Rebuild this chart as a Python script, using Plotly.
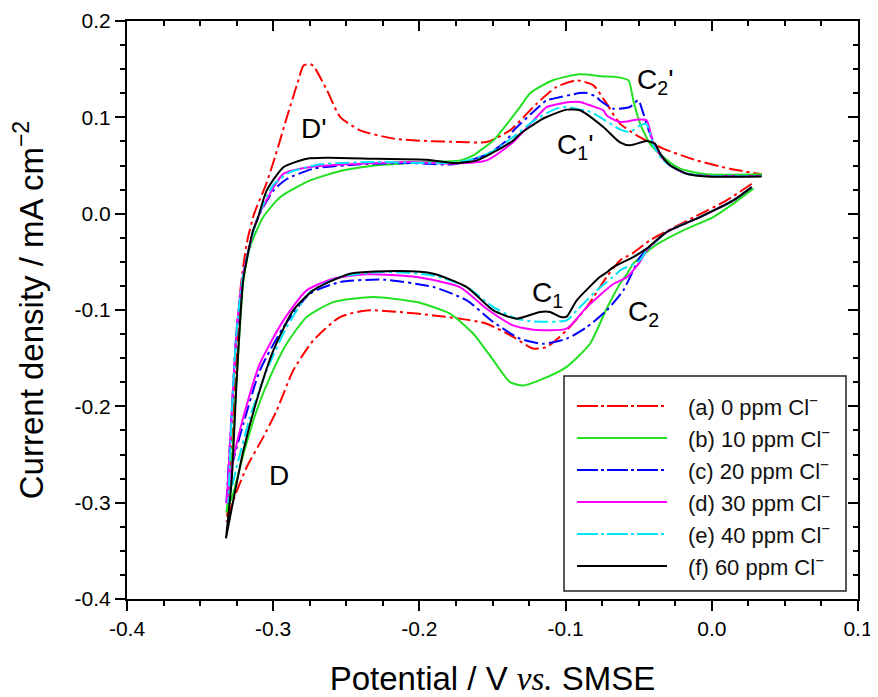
import plotly.graph_objects as go

# ---------------- data ----------------
labels = ["(a) 0 ppm Cl<sup>−</sup>", "(b) 10 ppm Cl<sup>−</sup>", "(c) 20 ppm Cl<sup>−</sup>",
          "(d) 30 ppm Cl<sup>−</sup>", "(e) 40 ppm Cl<sup>−</sup>", "(f) 60 ppm Cl<sup>−</sup>"]
colors = ["#ff0000", "#22e022", "#0000ff", "#ff00ff", "#00e5f5", "#000000"]
dashes = ["dashdot", "solid", "dashdot", "solid", "dashdot", "solid"]

# (a) 0 ppm
a_dn_x = [0.0273, 0.0101, -0.0127, -0.0423, -0.054, -0.0628, -0.0719, -0.0855, -0.0993, -0.113, -0.1222,
          -0.1358, -0.154, -0.1723, -0.1904, -0.2133, -0.236, -0.2543, -0.2726, -0.2863, -0.2976, -0.3068,
          -0.3181, -0.3273, -0.3318]
a_dn_y = [0.0311, 0.0138, -0.004, -0.0277, -0.041, -0.0485, -0.0658, -0.097, -0.121, -0.1385, -0.140,
          -0.128, -0.1142, -0.109, -0.1056, -0.1021, -0.1004, -0.1073, -0.1316, -0.1627, -0.2043, -0.232,
          -0.263, -0.2977, -0.32]
a_up_x = [-0.3318, -0.329, -0.326, -0.3225, -0.318, -0.313, -0.305, -0.2985, -0.2906, -0.2835, -0.2791,
          -0.2745, -0.2723, -0.2632, -0.2541, -0.2404, -0.2176, -0.1948, -0.172, -0.154, -0.138, -0.1198,
          -0.1062, -0.0924, -0.081, -0.0719, -0.0628, -0.0514, -0.0332, -0.0104, 0.0124, 0.0341]
a_up_y = [-0.32, -0.26, -0.17, -0.08, -0.03, 0.0, 0.03, 0.06, 0.1003, 0.135, 0.154,
          0.155, 0.153, 0.128, 0.1003, 0.0865, 0.0779, 0.0754, 0.0744, 0.0744, 0.0865, 0.1142,
          0.1315, 0.1384, 0.1332, 0.1142, 0.0935, 0.0813, 0.0675, 0.0553, 0.0467, 0.0408]

# (b) 10 ppm
b_dn_x = [0.0284, 0.0147, 0.001, -0.0195, -0.0377, -0.0446, -0.0537, -0.0582, -0.0628, -0.0719, -0.0833,
          -0.0993, -0.1152, -0.1289, -0.138, -0.1494, -0.1631, -0.1791, -0.2019, -0.2315, -0.2589, -0.2771,
          -0.2908, -0.3022, -0.3113, -0.3204, -0.3273, -0.332]
b_dn_y = [0.026, 0.0104, -0.0035, -0.0173, -0.032, -0.040, -0.0519, -0.063, -0.0727, -0.0985, -0.135,
          -0.159, -0.1713, -0.1783, -0.1749, -0.1523, -0.1246, -0.1038, -0.0918, -0.0866, -0.0918, -0.1073,
          -0.135, -0.1697, -0.2043, -0.25, -0.29, -0.31]
b_up_x = [-0.332, -0.3284, -0.325, -0.3215, -0.3204, -0.3159, -0.3068, -0.2951, -0.2746, -0.2518, -0.229,
          -0.1948, -0.172, -0.1631, -0.1583, -0.1494, -0.1312, -0.1243, -0.1084, -0.0902, -0.0742, -0.065,
          -0.057, -0.0537, -0.0491, -0.0423, -0.0332, -0.0216, -0.0035, 0.0341]
b_up_y = [-0.31, -0.26, -0.17, -0.09, -0.069, -0.0347, -0.0035, 0.0173, 0.0346, 0.045, 0.0502,
          0.0536, 0.0553, 0.0605, 0.0657, 0.0761, 0.1107, 0.125, 0.1387, 0.1446, 0.1425, 0.1418,
          0.1384, 0.1177, 0.0935, 0.0727, 0.0588, 0.0467, 0.0408, 0.0408]

# (c) 20 ppm
c_dn_x = [0.0273, 0.0147, -0.0081, -0.0309, -0.0446, -0.0491, -0.0605, -0.0719, -0.0855, -0.0993, -0.1152,
          -0.1312, -0.1494, -0.1676, -0.1904, -0.2248, -0.2543, -0.2748, -0.293, -0.3091, -0.3204, -0.3284,
          -0.332]
c_dn_y = [0.0276, 0.0138, -0.0035, -0.0191, -0.038, -0.045, -0.0796, -0.1004, -0.1178, -0.1298, -0.135,
          -0.1298, -0.1125, -0.09, -0.0762, -0.0685, -0.071, -0.0831, -0.1178, -0.1627, -0.218, -0.263,
          -0.30]
c_up_x = [-0.332, -0.3284, -0.325, -0.3204, -0.3113, -0.2999, -0.2906, -0.2723, -0.2404, -0.2062, -0.1765,
          -0.1538, -0.1403, -0.1358, -0.1198, -0.113, -0.1084, -0.0902, -0.0855, -0.0787, -0.0766, -0.0674,
          -0.056, -0.0503, -0.0468, -0.0423, -0.0354, -0.0286, -0.0172, -0.0035, 0.0341]
c_up_y = [-0.30, -0.207, -0.121, -0.0623, -0.007, 0.024, 0.036, 0.0467, 0.0512, 0.0525, 0.0512,
          0.0615, 0.0761, 0.086, 0.109, 0.1177, 0.1194, 0.1252, 0.1252, 0.1211, 0.1177, 0.109,
          0.1107, 0.1177, 0.1038, 0.083, 0.0623, 0.05, 0.0415, 0.039, 0.039]

# (d) 30 ppm
d_dn_x = [0.0273, 0.0147, -0.0081, -0.0309, -0.0446, -0.0491, -0.0582, -0.0674, -0.0855, -0.0993, -0.1221,
          -0.1358, -0.154, -0.1723, -0.2019, -0.236, -0.2589, -0.2771, -0.293, -0.3091, -0.3204, -0.3284,
          -0.3318]
d_dn_y = [0.0276, 0.0138, -0.0035, -0.0191, -0.038, -0.05, -0.066, -0.073, -0.097, -0.1194, -0.1205,
          -0.116, -0.0987, -0.0762, -0.0658, -0.063, -0.0675, -0.0796, -0.1108, -0.1558, -0.211, -0.263,
          -0.301]
d_up_x = [-0.3318, -0.3284, -0.325, -0.3204, -0.3113, -0.2999, -0.2928, -0.2723, -0.2404, -0.2062, -0.1765,
          -0.154, -0.1358, -0.1198, -0.113, -0.1038, -0.097, -0.0902, -0.0834, -0.0742, -0.0719, -0.0628,
          -0.0514, -0.0446, -0.04, -0.0343, -0.0286, -0.0172, -0.0035, 0.0341]
d_up_y = [-0.301, -0.207, -0.121, -0.0623, -0.007, 0.027, 0.0415, 0.049, 0.0519, 0.0536, 0.0519,
          0.0553, 0.0744, 0.1003, 0.1107, 0.1142, 0.1159, 0.1159, 0.1125, 0.1073, 0.102, 0.0951,
          0.0976, 0.0969, 0.0727, 0.0588, 0.05, 0.0415, 0.039, 0.039]

# (e) 40 ppm
e_dn_x = [0.0273, 0.0147, -0.0081, -0.0309, -0.0446, -0.0491, -0.0628, -0.065, -0.0787, -0.0924, -0.0993,
          -0.1221, -0.1335, -0.1494, -0.1676, -0.1904, -0.2248, -0.2543, -0.2748, -0.2908, -0.3044, -0.3159,
          -0.325, -0.3307]
e_dn_y = [0.0276, 0.0138, -0.0035, -0.0191, -0.038, -0.0485, -0.0589, -0.0623, -0.0796, -0.1004, -0.1108,
          -0.1118, -0.109, -0.097, -0.0762, -0.0641, -0.0606, -0.0658, -0.0814, -0.1178, -0.1627, -0.211,
          -0.263, -0.301]
e_up_x = [-0.3307, -0.3284, -0.325, -0.3204, -0.3113, -0.2999, -0.2883, -0.2678, -0.229, -0.1834, -0.165,
          -0.1495, -0.1358, -0.1198, -0.1062, -0.0993, -0.0902, -0.0855, -0.0766, -0.0628, -0.056, -0.0491,
          -0.0446, -0.04, -0.0343, -0.0286, -0.0172, -0.0035, 0.0341]
e_up_y = [-0.301, -0.21, -0.121, -0.0623, -0.007, 0.03, 0.0432, 0.0512, 0.0536, 0.0525, 0.056,
          0.065, 0.0796, 0.0986, 0.109, 0.1107, 0.108, 0.107, 0.1003, 0.0875, 0.0848, 0.0917,
          0.0927, 0.0709, 0.0571, 0.05, 0.0415, 0.039, 0.039]

# (f) 60 ppm
f_dn_x = [0.0273, 0.0147, -0.0081, -0.0309, -0.0446, -0.0537, -0.0674, -0.0719, -0.0766, -0.0924, -0.0993,
          -0.1038, -0.1107, -0.1175, -0.1335, -0.1494, -0.1676, -0.1904, -0.2133, -0.2475, -0.2726, -0.2863,
          -0.2999, -0.3113, -0.3204, -0.3273, -0.3323]
f_dn_y = [0.0276, 0.0138, -0.0035, -0.0191, -0.0363, -0.045, -0.0554, -0.061, -0.0658, -0.09, -0.107,
          -0.107, -0.102, -0.102, -0.109, -0.1004, -0.0762, -0.0623, -0.0596, -0.0623, -0.0796, -0.1004,
          -0.142, -0.194, -0.2458, -0.2977, -0.337]
f_up_x = [-0.3323, -0.3284, -0.325, -0.3205, -0.3138, -0.311, -0.3044, -0.2928, -0.2769, -0.2632, -0.229,
          -0.1948, -0.1765, -0.1606, -0.147, -0.1358, -0.131, -0.1175, -0.113, -0.0993, -0.0902, -0.0742,
          -0.0628, -0.056, -0.0446, -0.0389, -0.0354, -0.0286, -0.0172, -0.0035, 0.0341]
f_up_y = [-0.337, -0.277, -0.173, -0.069, -0.0173, -0.007, 0.0242, 0.0484, 0.0571, 0.0581, 0.057,
          0.056, 0.0525, 0.0553, 0.0657, 0.076, 0.083, 0.0969, 0.1003, 0.108, 0.1073, 0.09,
          0.074, 0.0709, 0.0754, 0.0727, 0.0623, 0.0502, 0.0415, 0.0387, 0.0387]

series = [(a_dn_x, a_dn_y, a_up_x, a_up_y), (b_dn_x, b_dn_y, b_up_x, b_up_y),
          (c_dn_x, c_dn_y, c_up_x, c_up_y), (d_dn_x, d_dn_y, d_up_x, d_up_y),
          (e_dn_x, e_dn_y, e_up_x, e_up_y), (f_dn_x, f_dn_y, f_up_x, f_up_y)]

x_tick_vals = [-0.4, -0.3, -0.2, -0.1, 0.0, 0.1]
x_tick_text = ["-0.4", "-0.3", "-0.2", "-0.1", "0.0", "0.1"]
y_tick_vals = [-0.4, -0.3, -0.2, -0.1, 0.0, 0.1, 0.2]
y_tick_text = ["-0.4", "-0.3", "-0.2", "-0.1", "0.0", "0.1", "0.2"]

peak_labels = ["D'", "C<sub>1</sub>'", "C<sub>2</sub>'", "C<sub>1</sub>", "C<sub>2</sub>", "D"]
peak_x = [-0.2824, -0.1073, -0.0525, -0.1243, -0.0585, -0.3042]
peak_y = [0.088, 0.070, 0.137, -0.084, -0.104, -0.272]

# ---------------- figure ----------------
# the page body has an 8px margin, so the figure is sized to fill the 878x697 window
OFF = 8
W, H = 878 - OFF, 697 - OFF
L, R, T, B = 127 - OFF, 20, 21 - OFF, 98
FONT = "Liberation Sans, Arial, sans-serif"
dash_map = {"solid": "solid", "dashdot": "14px,4px,3px,4px"}

fig = go.Figure()
for (dx, dy, ux, uy), name, col, ds in zip(series, labels, colors, dashes):
    fig.add_trace(go.Scatter(x=dx + ux, y=dy + uy, mode="lines", name=name,
                             line=dict(color=col, width=2, dash=dash_map[ds], shape="spline", smoothing=0.6),
                             showlegend=False, hoverinfo="skip"))

# invisible trace on the mirrored (top/right) axes so they are drawn
fig.add_trace(go.Scatter(x=f_up_x, y=f_up_y, xaxis="x2", yaxis="y2", mode="lines",
                         line=dict(width=0), opacity=0, showlegend=False, hoverinfo="skip"))

for txt, px_, py_ in zip(peak_labels, peak_x, peak_y):
    fig.add_annotation(x=px_, y=py_, text=txt, showarrow=False, xanchor="left", yanchor="middle",
                       font=dict(family=FONT, size=28, color="black"))

# manual legend (positions given in window pixels, converted to paper coordinates)
def xp(p):
    return (p - OFF - L) / (W - L - R)

def yp(p):
    return (H - B - (p - OFF)) / (H - T - B)

fig.add_shape(type="rect", xref="paper", yref="paper", x0=xp(564), x1=xp(846), y0=yp(591), y1=yp(376),
              line=dict(color="#222222", width=1.5), fillcolor="white", layer="above")
row_y = [406, 438, 470, 502, 534, 566]
for ry, name, col, ds in zip(row_y, labels, colors, dashes):
    fig.add_shape(type="line", xref="paper", yref="paper", x0=xp(577), x1=xp(667), y0=yp(ry), y1=yp(ry),
                  line=dict(color=col, width=2.2, dash="solid" if ds == "solid" else "21px,3px,3px,3px"),
                  layer="above")
    fig.add_annotation(xref="paper", yref="paper", x=xp(686), y=yp(ry), text=name, showarrow=False,
                       xanchor="left", yanchor="middle", font=dict(family=FONT, size=22, color="#111111"))

axis_common = dict(showgrid=False, zeroline=False, showline=True, linecolor="black", linewidth=2,
                   tickcolor="black", tickwidth=1.5, ticklen=10)

fig.update_layout(
    width=W, height=H, margin=dict(l=L, r=R, t=T, b=B, autoexpand=False),
    paper_bgcolor="white", plot_bgcolor="white",
    font=dict(family=FONT, color="black"),
    xaxis=dict(range=[-0.4, 0.1], tickmode="array", tickvals=x_tick_vals, ticktext=x_tick_text,
               ticks="outside", tickfont=dict(size=21, family=FONT),
               minor=dict(tick0=0, dtick=0.025, ticks="outside", ticklen=5, tickwidth=1.5, tickcolor="black"),
               title=dict(text='Potential / V <span style="font-family:Liberation Serif"><i>vs.</i></span> SMSE',
                          font=dict(size=33, family=FONT), standoff=34),
               **axis_common),
    yaxis=dict(range=[-0.4, 0.2], tickmode="array", tickvals=y_tick_vals, ticktext=y_tick_text,
               ticks="outside", tickfont=dict(size=21, family=FONT),
               minor=dict(tick0=0, dtick=0.025, ticks="outside", ticklen=5, tickwidth=1.5, tickcolor="black"),
               title=dict(text="Current density / mA cm<sup>−2</sup>", font=dict(size=33, family=FONT),
                          standoff=22),
               **axis_common),
    xaxis2=dict(range=[-0.4, 0.1], overlaying="x", side="top", anchor="y2", matches="x",
                tickmode="array", tickvals=x_tick_vals, ticks="inside", showticklabels=False,
                minor=dict(tick0=0, dtick=0.025, ticks="inside", ticklen=5, tickwidth=1.5, tickcolor="black"),
                **axis_common),
    yaxis2=dict(range=[-0.4, 0.2], overlaying="y", side="right", anchor="x2", matches="y",
                tickmode="array", tickvals=y_tick_vals, ticks="inside", showticklabels=False,
                minor=dict(tick0=0, dtick=0.025, ticks="inside", ticklen=5, tickwidth=1.5, tickcolor="black"),
                **axis_common),
)

fig.write_html("out.html")
